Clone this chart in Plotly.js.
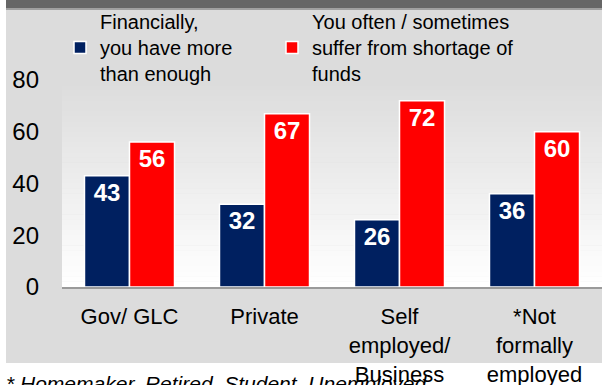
<!DOCTYPE html>
<html>
<head>
<meta charset="utf-8">
<script src="https://cdn.plot.ly/plotly-3.0.1.min.js"></script>
<style>html,body{margin:0;padding:0;background:#fff;}#chart{width:602px;height:385px;}</style>
</head>
<body>
<div id="chart"></div>
<script>
var categories = ["Gov/ GLC", "Private", "Self<br>employed/<br>Business", "*Not<br>formally<br>employed"];
var seriesNames = ["Financially,<br>you have more<br>than enough", "You often / sometimes<br>suffer from shortage of<br>funds"];
var moreThanEnough = [43, 32, 26, 36];
var shortageOfFunds = [56, 67, 72, 60];
var yTicks = [0, 20, 40, 60, 80];
var footnote = "* Homemaker, Retired, Student, Unemployed";

var W = 602, H = 385, L = 62, R = 0, T = 80, B = 98;
var pw = W - L - R, ph = H - T - B;
function px(x){ return (x - L) / pw; }
function py(y){ return (H - B - y) / ph; }

var font = "Arial, 'Liberation Sans', sans-serif";

var shapes = [];
// outer grey panel
shapes.push({type:'rect', xref:'paper', yref:'paper', x0:px(6), x1:px(602), y0:py(363), y1:py(8),
  fillcolor:'#dcdcdc', line:{width:0}, layer:'below'});
// dark top band
shapes.push({type:'rect', xref:'paper', yref:'paper', x0:px(6), x1:px(602), y0:py(8), y1:py(0),
  fillcolor:'#666666', line:{width:0}, layer:'below'});
shapes.push({type:'rect', xref:'paper', yref:'paper', x0:px(6), x1:px(602), y0:py(10), y1:py(8),
  fillcolor:'#a0a0a0', line:{width:0}, layer:'below'});
// gradient plot background
var N = 40;
for (var i = 0; i < N; i++) {
  var t = i / (N - 1);
  var c = Math.round(255 - (255 - 220) * t);
  shapes.push({type:'rect', xref:'paper', yref:'paper', x0:0, x1:1,
    y0:i / N, y1:(i + 1) / N + 0.002,
    fillcolor:'rgb(' + c + ',' + c + ',' + c + ')', line:{width:0}, layer:'below'});
}

var textFont = {family:font, size:24, color:'#ffffff', weight:'bold'};

var traces = [
  {type:'bar', x:categories, y:moreThanEnough, name:seriesNames[0], legend:'legend',
   marker:{color:'#002060', line:{color:'#ffffff', width:1.5}},
   text:moreThanEnough.map(String), textposition:'inside', insidetextanchor:'end',
   textangle:0, constraintext:'none', textfont:textFont, hoverinfo:'none'},
  {type:'bar', x:categories, y:shortageOfFunds, name:seriesNames[1], legend:'legend2',
   marker:{color:'#ff0000', line:{color:'#ffffff', width:1.5}},
   text:shortageOfFunds.map(String), textposition:'inside', insidetextanchor:'end',
   textangle:0, constraintext:'none', textfont:textFont, hoverinfo:'none'}
];

var legendBase = {orientation:'v', xanchor:'left', yanchor:'top',
  bgcolor:'rgba(0,0,0,0)', font:{family:font, size:20, color:'#000'}, valign:'middle'};

var layout = {
  width:W, height:H,
  margin:{l:L, r:R, t:T, b:B, autoexpand:false},
  paper_bgcolor:'#ffffff', plot_bgcolor:'rgba(0,0,0,0)',
  barmode:'group', bargap:0.333, bargroupgap:0,
  font:{family:font, color:'#000000'},
  showlegend:true,
  legend:Object.assign({}, legendBase, {x:px(60), y:py(2)}),
  legend2:Object.assign({}, legendBase, {x:px(272), y:py(2)}),
  xaxis:{type:'category', showgrid:false, zeroline:false, showline:true,
    linecolor:'#9a9a9a', linewidth:2, ticks:'', tickfont:{family:font, size:22, color:'#000'},
    ticklabelstandoff:9, fixedrange:true},
  yaxis:{range:[0,80], tickvals:yTicks, ticktext:yTicks.map(String), showgrid:false,
    zeroline:false, showline:false, ticks:'', tickfont:{family:font, size:24, color:'#000'},
    ticklabelstandoff:22, fixedrange:true},
  shapes:shapes,
  annotations:[{xref:'paper', yref:'paper', x:px(4), y:py(370), xanchor:'left', yanchor:'top',
    text:'<i>' + footnote + '</i>', showarrow:false, font:{family:font, size:21, color:'#000'}}]
};

Plotly.newPlot('chart', traces, layout, {staticPlot:true, displayModeBar:false});
</script>
</body>
</html>
